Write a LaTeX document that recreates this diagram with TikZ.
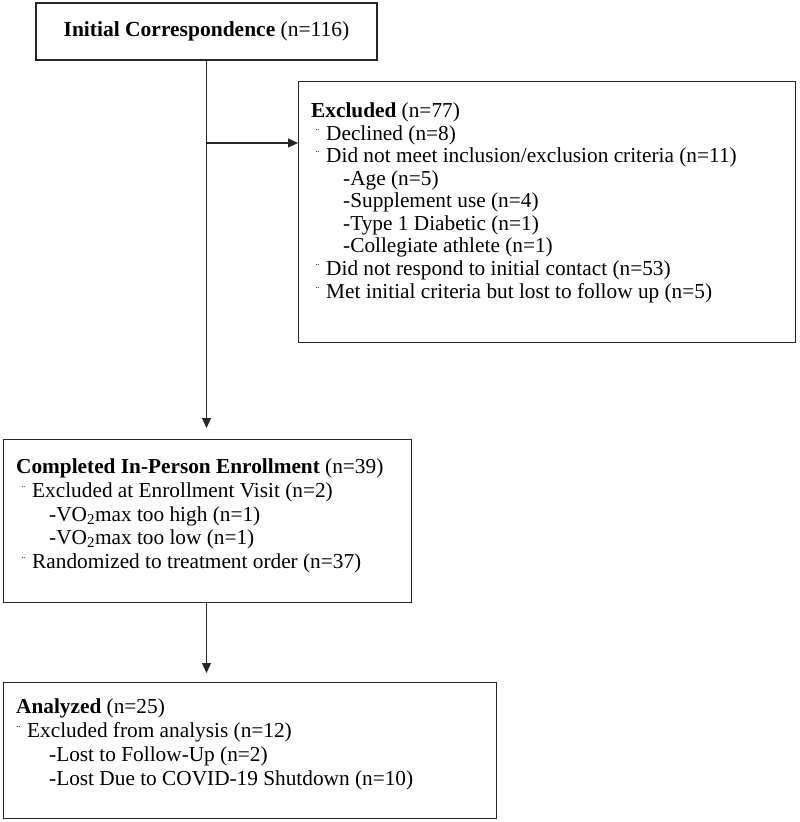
\documentclass[tikz,border=0pt]{standalone}
\usepackage{fontspec}
\setmainfont{Liberation Serif}
\usepackage{tikz}
\usetikzlibrary{arrows.meta}

% small mark in front of the list items
\newcommand{\mk}{\llap{\raisebox{0.4ex}{\fontsize{11}{11}\selectfont ¨}\hspace{7pt}}}

\tikzset{
  frame/.style={draw=black!85, line width=1.4pt, anchor=north west, inner sep=0pt},
  line/.style={anchor=base west, inner sep=0pt, font=\fontsize{21.3}{25}\selectfont},
  flow/.style={draw=black!85, line width=1.1pt, -{Triangle[length=10pt,width=9pt]}}
}

\begin{document}
\begin{tikzpicture}[x=1pt, y=-1pt]
	\useasboundingbox (0,0) rectangle (800,822);

	% cajas
	\node[frame, minimum width=341pt, minimum height=57pt, anchor=center,
	      font=\fontsize{21.5}{25}\selectfont] (init) at (206.5,31.5)
	      {\textbf{Initial Correspondence} (n=116)};
	\node[frame, minimum width=497pt, minimum height=261pt] (excl) at (298,81) {};
	\node[frame, minimum width=408pt, minimum height=163pt] (comp) at (3,439) {};
	\node[frame, minimum width=493pt, minimum height=136pt] (anal) at (3,682) {};

	% texto de Excluded
	\foreach \x/\y/\t [count=\i] in {
		311/117/{\textbf{Excluded} (n=77)},
		326/140/{\mk Declined (n=8)},
		326/162/{\mk Did not meet inclusion/exclusion criteria (n=11)},
		343/185/{-Age (n=5)},
		343/207/{-Supplement use (n=4)},
		343/230/{-Type 1 Diabetic (n=1)},
		343/252/{-Collegiate athlete (n=1)},
		326/275/{\mk Did not respond to initial contact (n=53)},
		326/298/{\mk Met initial criteria but lost to follow up (n=5)}} {
		\node[line] (excl-\i) at (\x,\y) {\t};
	}

	% texto de Completed
	\foreach \x/\y/\t [count=\i] in {
		16/473/{\textbf{Completed In-Person Enrollment} (n=39)},
		32/497/{\mk Excluded at Enrollment Visit (n=2)},
		49/521/{-VO\textsubscript{2}max too high (n=1)},
		49/544/{-VO\textsubscript{2}max too low (n=1)},
		32/568/{\mk Randomized to treatment order (n=37)}} {
		\node[line] (comp-\i) at (\x,\y) {\t};
	}

	% texto de Analyzed
	\foreach \x/\y/\t [count=\i] in {
		16/713/{\textbf{Analyzed} (n=25)},
		27/737/{\mk Excluded from analysis (n=12)},
		49/761/{-Lost to Follow-Up (n=2)},
		49/785/{-Lost Due to COVID-19 Shutdown (n=10)}} {
		\node[line] (anal-\i) at (\x,\y) {\t};
	}

	% flechas
	\coordinate (split) at (init.south |- 0,143);
	\draw[flow, shorten >=11pt] (init.south) -- (init.south |- comp.north);
	\draw[flow] (split) -- (split -| excl.west);
	\draw[flow, shorten >=9pt] (init.south |- comp.south) -- (init.south |- anal.north);
\end{tikzpicture}
\end{document}
